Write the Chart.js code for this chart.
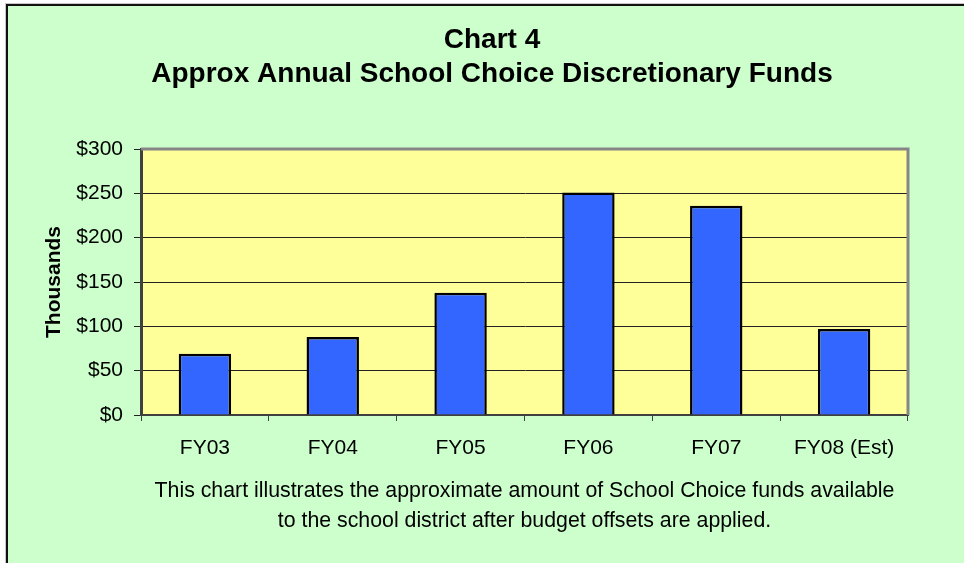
<!DOCTYPE html>
<html>
<head>
<meta charset="utf-8">
<script src="https://cdn.jsdelivr.net/npm/chart.js@4.4.1/dist/chart.umd.min.js"></script>
<style>
  html, body { margin: 0; padding: 0; background: #fff; }
  #wrap { width: 964px; height: 563px; }
</style>
</head>
<body>
<div id="wrap"><canvas id="chart" width="964" height="563"></canvas></div>
<script>
// data (thousands of dollars)
const categories = ['FY03', 'FY04', 'FY05', 'FY06', 'FY07', 'FY08 (Est)'];
const funds = [69, 88, 138, 251, 236, 97];
const yTicks = [0, 50, 100, 150, 200, 250, 300];
const titleLines = ['Chart 4', 'Approx Annual School Choice Discretionary Funds'];
const captionLines = [
  'This chart illustrates the approximate amount of School Choice funds available',
  'to the school district after budget offsets are applied.'
];

const FONT = "'Liberation Sans', Arial, sans-serif";

// page background, outer frame, yellow plot area
const backdrop = {
  id: 'backdrop',
  beforeDraw(chart) {
    const { ctx, chartArea: a } = chart;
    ctx.save();
    ctx.fillStyle = '#fff';
    ctx.fillRect(0, 0, 964, 563);
    ctx.fillStyle = '#c8c8c8';
    ctx.fillRect(5, 3, 959, 1);
    ctx.fillRect(5, 3, 1, 560);
    ctx.fillStyle = '#111';
    ctx.fillRect(6, 4, 958, 2);
    ctx.fillRect(6, 4, 2, 559);
    ctx.fillStyle = '#ccffcc';
    ctx.fillRect(8, 6, 956, 557);
    ctx.fillStyle = '#ffff99';
    ctx.fillRect(a.left, a.top, a.right - a.left, a.bottom - a.top);
    ctx.restore();
  },
  afterDraw(chart) {
    const { ctx, chartArea: a } = chart;
    ctx.save();
    // gray frame on top and right of the plot
    ctx.strokeStyle = '#868686';
    ctx.lineWidth = 3;
    ctx.beginPath();
    ctx.moveTo(a.left, a.top);
    ctx.lineTo(a.right, a.top);
    ctx.lineTo(a.right, a.bottom);
    ctx.stroke();

    ctx.fillStyle = '#000';
    ctx.textAlign = 'center';
    ctx.textBaseline = 'middle';
    ctx.font = 'bold 28px ' + FONT;
    ctx.fillText(titleLines[0], 492, 40);
    ctx.fillText(titleLines[1], 492, 74);

    ctx.font = '21.3px ' + FONT;
    const cx = (a.left + a.right) / 2;
    ctx.fillText(captionLines[0], cx, 491);
    ctx.fillText(captionLines[1], cx, 521);
    ctx.restore();
  }
};

new Chart(document.getElementById('chart'), {
  type: 'bar',
  data: {
    labels: categories,
    datasets: [{
      data: funds,
      backgroundColor: '#3366ff',
      borderColor: '#000',
      borderWidth: 2.5,
      barPercentage: 0.41,
      categoryPercentage: 1
    }]
  },
  options: {
    responsive: false,
    animation: false,
    devicePixelRatio: 1,
    layout: { padding: { left: 8, top: 149, right: 56, bottom: 0 } },
    plugins: {
      legend: { display: false },
      title: { display: false },
      tooltip: { enabled: false }
    },
    scales: {
      x: {
        afterFit(scale) { scale.height = 148; },
        grid: {
          offset: true,
          drawOnChartArea: false,
          tickLength: 6,
          color: '#404040'
        },
        border: { color: '#404040', width: 2 },
        ticks: {
          color: '#000',
          padding: 15,
          maxRotation: 0,
          font: { family: FONT, size: 21 }
        }
      },
      y: {
        min: 0,
        max: 300,
        afterFit(scale) { scale.width = 133; },
        afterBuildTicks(scale) { scale.ticks = yTicks.map(v => ({ value: v })); },
        grid: {
          color: '#222',
          lineWidth: 1,
          tickLength: 7
        },
        border: { color: '#404040', width: 3 },
        ticks: {
          color: '#000',
          padding: 11,
          font: { family: FONT, size: 21 },
          callback: v => '$' + v
        },
        title: {
          display: true,
          text: 'Thousands',
          color: '#000',
          padding: { top: 34, bottom: 0 },
          font: { family: FONT, size: 21, weight: 'bold' }
        }
      }
    }
  },
  plugins: [backdrop]
});
</script>
</body>
</html>
